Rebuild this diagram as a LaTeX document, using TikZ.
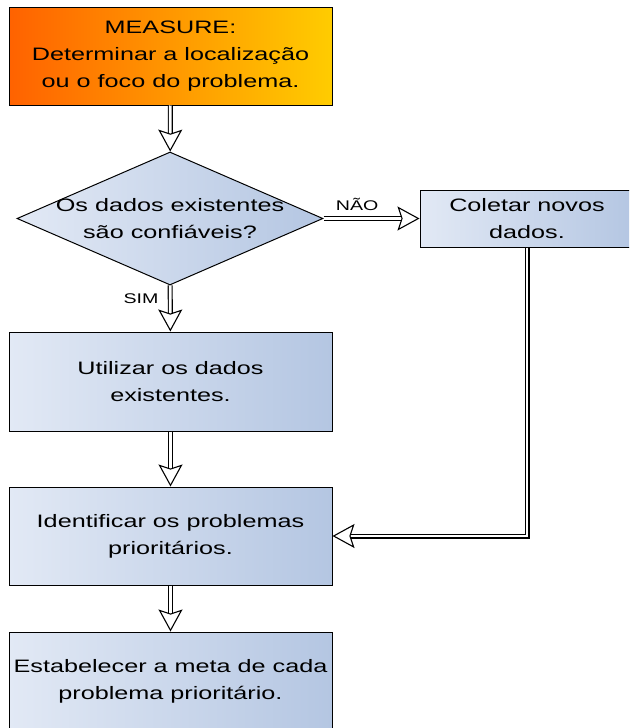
\documentclass[tikz,border=0pt]{standalone}
\usepackage{fontspec}
\setmainfont{Liberation Sans}[FakeStretch=1.4]
\usetikzlibrary{shapes.geometric,arrows.meta}
\definecolor{boxl}{RGB}{226,233,245}
\definecolor{boxr}{RGB}{180,198,226}
\definecolor{orgl}{RGB}{255,98,0}
\definecolor{orgr}{RGB}{255,204,0}
\begin{document}
\begin{tikzpicture}[x=1pt,y=-1pt,line join=miter,
  box/.style={draw,line width=1pt,left color=boxl,right color=boxr,minimum width=323pt,minimum height=98pt,inner sep=0pt,align=center,font=\fontsize{18}{27}\selectfont},
  flow/.style={draw,line width=1.1pt,double=white,double distance=2.8pt,-{Stealth[open,fill=white,length=22pt,width=24pt,inset=4pt]}},
  tag/.style={font=\fontsize{14}{16}\selectfont}]
\useasboundingbox (0,0) rectangle (629,728);
\clip (0,0) rectangle (629,728);
\node[box,left color=orgl,right color=orgr] (measure) at (170.5,56) {MEASURE:\\Determinar a localização\\ou o foco do problema.};
\node[draw,diamond,line width=1pt,left color=boxl,right color=boxr,minimum width=306pt,minimum height=133pt,inner sep=0pt,
  label={[align=center,font=\fontsize{18}{27}\selectfont]center:Os dados existentes\\são confiáveis?}] (question) at (170,218.5) {};
\node[box,minimum width=214pt,minimum height=57pt] (coletar) at (527,218.5) {Coletar novos\\dados.};
\node[box,minimum height=99pt] (utilizar) at (170.5,381.5) {Utilizar os dados\\existentes.};
\node[box] (identificar) at (170.5,536) {Identificar os problemas\\prioritários.};
\node[box] (estabelecer) at (170.5,681) {Estabelecer a meta de cada\\problema prioritário.};
\draw[flow] (measure) -- (question);
\draw[flow] (question) -- node[tag,above=4pt,pos=.35]{NÃO} (coletar);
\draw[flow] (question) -- node[tag,left=8pt,pos=.28]{SIM} (utilizar);
\draw[flow] (utilizar) -- (identificar);
\draw[flow] (coletar) |- (identificar);
\draw[flow] (identificar) -- (estabelecer);
\end{tikzpicture}
\end{document}
